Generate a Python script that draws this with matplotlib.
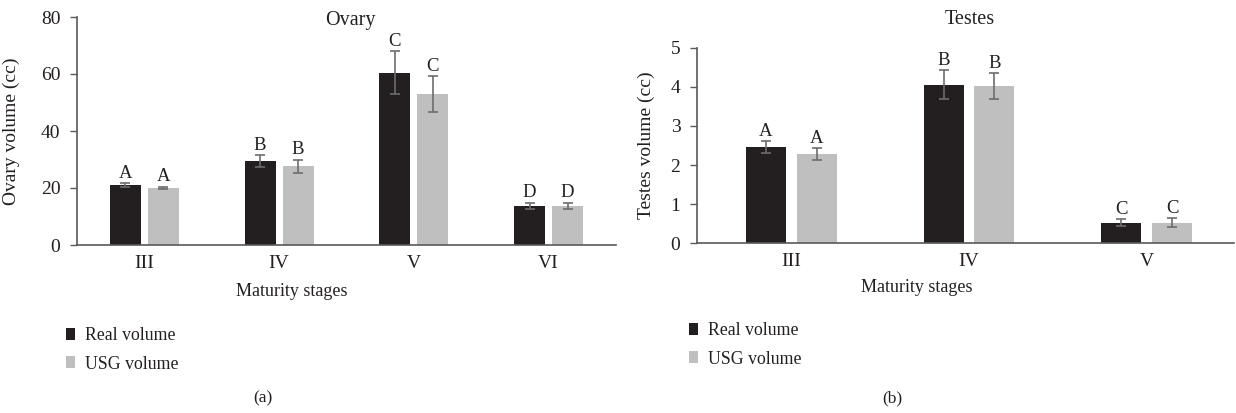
import matplotlib
matplotlib.use("Agg")
import matplotlib.pyplot as plt
import numpy as np

plt.rcParams['font.family'] = ['Liberation Serif', 'DejaVu Serif']

series_names = ["Real volume", "USG volume"]
colors = ["#231f20", "#bfbfbf"]

# Ovary
ovary_stages = ["III", "IV", "V", "VI"]
ovary_real = [21.0, 29.5, 60.5, 13.7]
ovary_real_err = [0.7, 2.2, 7.6, 1.2]
ovary_usg = [20.0, 27.7, 53.0, 13.7]
ovary_usg_err = [0.5, 2.3, 6.3, 1.2]
ovary_letters = ["A", "B", "C", "D"]

# Testes
testes_stages = ["III", "IV", "V"]
testes_real = [2.47, 4.05, 0.53]
testes_real_err = [0.15, 0.37, 0.08]
testes_usg = [2.28, 4.02, 0.53]
testes_usg_err = [0.15, 0.33, 0.11]
testes_letters = ["A", "B", "C"]

W, H = 1236, 413
fig = plt.figure(figsize=(W / 100, H / 100), dpi=100)

def fx(px):
    return px / W

def fy(py):
    return 1 - py / H

TXT = "#231f20"
spine_c = "#595959"
TICK_FS = 14
LET_FS = 13.5
LAB_FS = 12.5

def panel(rect_px, stages, real, real_err, usg, usg_err, letters, ylim, yticks,
          ylabel, xlim, width, off, pad, ylabel_x):
    l, r, b, t = rect_px
    ax = fig.add_axes([fx(l), fy(b), fx(r - l), (b - t) / H])
    x = np.arange(len(stages))
    for vals, errs, c, s, sgn in [(real, real_err, colors[0], series_names[0], -1),
                                  (usg, usg_err, colors[1], series_names[1], 1)]:
        ax.bar(x + sgn * off, vals, width, color=c, label=s, zorder=2)
        ax.errorbar(x + sgn * off, vals, yerr=errs, fmt='none', ecolor="#6d6d6d",
                    elinewidth=1.2, capsize=3.5, capthick=1.2, zorder=3)
        for xi, v, e, L in zip(x, vals, errs, letters):
            ax.text(xi + sgn * off, v + e + pad, L, ha='center', va='bottom',
                    fontsize=LET_FS, color=TXT)
    ax.set_xlim(*xlim)
    ax.set_ylim(*ylim)
    ax.set_yticks(yticks)
    ax.set_xticks(x)
    ax.set_xticklabels(stages)
    for sp in ['top', 'right']:
        ax.spines[sp].set_visible(False)
    for sp in ['left', 'bottom']:
        ax.spines[sp].set_color(spine_c)
        ax.spines[sp].set_linewidth(1.2)
    ax.tick_params(axis='y', length=5, width=1.0, color=spine_c, labelsize=TICK_FS,
                   pad=7, labelcolor=TXT)
    ax.tick_params(axis='x', length=0, labelsize=TICK_FS, pad=7, labelcolor=TXT)
    ax.set_ylabel(ylabel, fontsize=TICK_FS, color=TXT)
    ax.yaxis.set_label_coords((ylabel_x - l) / (r - l), 0.5)
    return ax

axL = panel((77, 616, 245, 17),
            ovary_stages, ovary_real, ovary_real_err, ovary_usg, ovary_usg_err,
            ovary_letters, (0, 80), [0, 20, 40, 60, 80], "Ovary volume (cc)",
            (-0.5, 3.5), 0.23, 0.141, 0.4, 20)
axR = panel((697, 1234, 243.3, 47.7),
            testes_stages, testes_real, testes_real_err, testes_usg, testes_usg_err,
            testes_letters, (0, 5), [0, 1, 2, 3, 4, 5], "Testes volume (cc)",
            (-0.53, 2.49), 0.225, 0.143, 0.03, 655)

fig.text(fx(350), fy(20), "Ovary", ha='center', va='center', fontsize=14.5, color=TXT)
fig.text(fx(970), fy(19), "Testes", ha='center', va='center', fontsize=14.5, color=TXT)
fig.text(fx(292), fy(292), "Maturity stages", ha='center', va='center', fontsize=LAB_FS + 0.5, color=TXT)
fig.text(fx(917), fy(287), "Maturity stages", ha='center', va='center', fontsize=LAB_FS + 0.5, color=TXT)
fig.text(fx(263), fy(398), "(a)", ha='center', va='center', fontsize=LAB_FS, color=TXT)
fig.text(fx(892), fy(398), "(b)", ha='center', va='center', fontsize=LAB_FS, color=TXT)

for ax, lx, ly in [(axL, 66, 327), (axR, 689, 322)]:
    h, l = ax.get_legend_handles_labels()
    fig.legend(h, l, loc='upper left', bbox_to_anchor=(fx(lx), fy(ly)), frameon=False,
               fontsize=LAB_FS + 0.3, handlelength=0.5, handleheight=0.65, handletextpad=0.55,
               labelspacing=0.65, borderaxespad=0, borderpad=0, labelcolor=TXT)

fig.savefig("out.png", dpi=100)
